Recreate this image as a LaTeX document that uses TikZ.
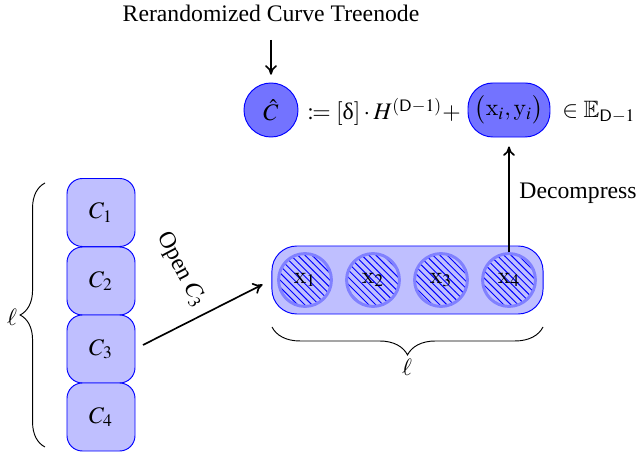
\documentclass[tikz,border=0pt]{standalone}
\usepackage{mathptmx}
\usepackage{amssymb}
\usepackage{mathtools}
\usepackage{fontspec}
\setmainfont{Liberation Serif}
\DeclareSymbolFont{bbsym}{U}{bbold}{m}{n}
\DeclareSymbolFontAlphabet{\mathbbold}{bbsym}
\usetikzlibrary{patterns,decorations.pathreplacing,arrows.meta}
\begin{document}
\begin{tikzpicture}[x=0.422pt,y=-0.422pt,
  darkfill/.style={draw=blue, fill=blue!55},
  cbox/.style={draw=blue, fill=blue!25, rounded corners=6.5pt, minimum width=28.7pt, minimum height=28.7pt, inner sep=0pt},
  bigbox/.style={draw=blue, fill=blue!25, rounded corners=10.5pt, minimum width=114.4pt, minimum height=28.7pt, inner sep=0pt},
  hatchc/.style={circle, draw=blue!50, line width=1.25pt, preaction={fill=blue!25}, pattern=north west lines, pattern color=blue, minimum size=22.3pt, inner sep=0pt},
  arr/.style={-{To[length=4pt,width=5pt]}, line width=0.7pt},
  brc/.style={decorate, line width=0.4pt}
]
\useasboundingbox (0,0) rectangle (636,455);
\node (title) at (271,13) {Rerandomized Curve Treenode};
\coordinate (topc) at (271,40);
\node[circle, darkfill, minimum size=22.8pt, inner sep=0pt] (ch) at (271,110) {$\hat{C}$};
\draw[arr, shorten >=3.3pt] (topc) -- (ch.north);
\node[anchor=west, inner sep=0pt] (form) at (307,112) {$\coloneqq [\text{δ}]\cdot H^{(\mathsf{D}-1)}+$};
\node[darkfill, rounded corners=10.5pt, minimum width=34.6pt, minimum height=22.8pt, inner sep=0pt] (xy) at (509,110) {$\big(\mathbbold{x}_i,\mathbbold{y}_i\big)$};
\node[anchor=west, inner sep=0pt] (elem) at (562,112) {$\in\mathbb{E}_{\mathsf{D}-1}$};

\node[bigbox] (big) at (407.5,280) {};
\node[hatchc] (x1) at (305,280) {$\mathbbold{x}_1$};
\node[hatchc] (x2) at (373,280) {$\mathbbold{x}_2$};
\node[hatchc] (x3) at (441,280) {$\mathbbold{x}_3$};
\node[hatchc] (x4) at (509,280) {$\mathbbold{x}_4$};
\draw[arr, shorten >=3.8pt] (x4.north) -- (xy.south);
\node[anchor=west, inner sep=0pt] (dec) at (519,193) {Decompress};

\coordinate (bl) at (272,327);
\coordinate (br) at (543,327);
\draw[brc, decoration={brace, amplitude=11.8pt}] (br) -- (bl);
\node (ell1) at (407,367) {$\ell$};

\node[cbox] (c1) at (101,212.5) {$C_1$};
\node[cbox] (c2) at (101,281) {$C_2$};
\node[cbox] (c3) at (101,349) {$C_3$};
\node[cbox] (c4) at (101,417) {$C_4$};

\coordinate (lb) at (45,447);
\coordinate (lt) at (45,183);
\draw[brc, decoration={brace, amplitude=10.5pt}] (lb) -- (lt);
\node (ell2) at (12,317) {$\ell$};

\coordinate (a1) at (143,345);
\draw[arr, shorten >=4.2pt] (a1) -- (big.west);
\node[rotate=-62] (open) at (181,270) {Open $C_3$};
\end{tikzpicture}
\end{document}
